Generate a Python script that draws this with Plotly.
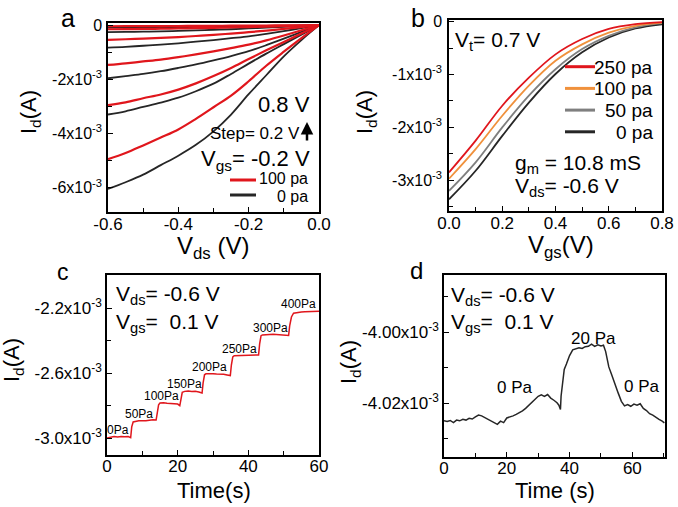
import plotly.graph_objects as go

W, H = 678, 507
FONT = "Liberation Sans, Arial, sans-serif"

# ---------------- Panel a : output curves ----------------
vds_a = [-0.6, -0.55, -0.5, -0.45, -0.4, -0.35, -0.3, -0.25, -0.2, -0.15, -0.1, -0.05, 0.0]
vgs_a = [-0.2, 0.0, 0.2, 0.4, 0.6, 0.8]
# Id in units of 1e-3 A, one list per Vgs
id_a_0pa = [
    [-6.05, -5.80, -5.52, -5.17, -4.82, -4.42, -3.92, -3.30, -2.55, -1.85, -1.15, -0.55, 0.0],
    [-3.30, -3.18, -3.02, -2.86, -2.68, -2.44, -2.16, -1.80, -1.42, -1.05, -0.70, -0.35, 0.0],
    [-1.96, -1.88, -1.80, -1.70, -1.58, -1.45, -1.30, -1.14, -0.96, -0.74, -0.50, -0.25, 0.0],
    [-0.83, -0.80, -0.76, -0.72, -0.67, -0.61, -0.55, -0.48, -0.41, -0.32, -0.22, -0.11, 0.0],
    [-0.26, -0.25, -0.24, -0.23, -0.21, -0.19, -0.17, -0.15, -0.12, -0.09, -0.06, -0.03, 0.0],
    [-0.09, -0.085, -0.08, -0.075, -0.07, -0.065, -0.055, -0.05, -0.04, -0.03, -0.02, -0.01, 0.0],
]
id_a_100pa = [
    [-4.95, -4.72, -4.44, -4.15, -3.85, -3.46, -3.03, -2.60, -2.07, -1.50, -0.98, -0.48, 0.0],
    [-2.95, -2.85, -2.70, -2.56, -2.38, -2.15, -1.88, -1.58, -1.25, -0.93, -0.62, -0.31, 0.0],
    [-1.47, -1.41, -1.34, -1.27, -1.18, -1.08, -0.97, -0.85, -0.72, -0.56, -0.38, -0.19, 0.0],
    [-0.54, -0.52, -0.50, -0.47, -0.44, -0.40, -0.36, -0.31, -0.26, -0.20, -0.14, -0.07, 0.0],
    [-0.15, -0.145, -0.14, -0.13, -0.12, -0.11, -0.10, -0.085, -0.07, -0.055, -0.035, -0.018, 0.0],
    [-0.04, -0.038, -0.036, -0.033, -0.03, -0.027, -0.024, -0.02, -0.017, -0.013, -0.009, -0.005, 0.0],
]

# ---------------- Panel b : transfer curves ----------------
vgs_b = [0.0, 0.1, 0.2, 0.3, 0.4, 0.5, 0.6, 0.7, 0.8]
pressures_b = ["250 pa", "100 pa", "50 pa", "0 pa"]
id_b = [
    [-2.85, -2.25, -1.59, -1.06, -0.62, -0.33, -0.14, -0.05, -0.01],
    [-2.97, -2.41, -1.78, -1.21, -0.74, -0.43, -0.21, -0.08, -0.02],
    [-3.20, -2.66, -2.00, -1.40, -0.90, -0.52, -0.27, -0.11, -0.03],
    [-3.36, -2.82, -2.16, -1.53, -0.99, -0.58, -0.30, -0.13, -0.05],
]

# ---------------- Panel c : step response ----------------
time_c = [0, 1, 2, 3, 4, 5, 6, 6.7, 7.0, 7.4,
          8, 9, 10, 11, 12, 13, 13.9, 14.2, 14.6,
          15, 16, 17, 18, 19, 20, 20.6, 20.9, 21.3,
          22, 23, 24, 25, 26, 26.9, 27.2, 27.6,
          28, 29, 30, 31, 32, 33, 34, 34.9, 35.2, 35.6,
          36, 37, 38, 39, 40, 41, 42, 42.9, 43.2, 43.6,
          44, 45, 46, 47, 48, 49, 50, 51.4, 51.7, 52.2, 52.8,
          54, 55, 56, 57, 58, 59, 60]
id_c = [-2.998, -2.993, -2.990, -2.992, -2.989, -2.991, -2.990, -2.997, -2.930, -2.900,
        -2.897, -2.893, -2.892, -2.893, -2.889, -2.886, -2.888, -2.840, -2.795,
        -2.784, -2.782, -2.785, -2.786, -2.788, -2.790, -2.800, -2.760, -2.718,
        -2.712, -2.710, -2.713, -2.712, -2.716, -2.722, -2.660, -2.610,
        -2.604, -2.602, -2.603, -2.605, -2.604, -2.607, -2.611, -2.615, -2.550, -2.500,
        -2.493, -2.492, -2.490, -2.489, -2.488, -2.486, -2.487, -2.488, -2.420, -2.370,
        -2.365, -2.362, -2.362, -2.361, -2.362, -2.362, -2.363, -2.368, -2.310, -2.255, -2.232,
        -2.226, -2.224, -2.223, -2.222, -2.221, -2.221, -2.220]
step_labels = ["0Pa", "50Pa", "100Pa", "150Pa", "200Pa", "250Pa", "300Pa", "400Pa"]
step_label_t = [3.2, 9.1, 15.3, 21.8, 29.1, 37.6, 46.4, 54.3]
step_label_i = [-2.949, -2.850, -2.740, -2.666, -2.561, -2.450, -2.321, -2.173]

# ---------------- Panel d : 20 Pa response ----------------
time_d = [0, 1, 2, 3, 4, 5, 6, 7, 8, 9, 10, 11, 12, 13, 14, 15, 16, 17, 18, 19,
          20, 21, 22, 23, 24, 25, 26, 27, 28, 29, 30, 31, 32, 33, 34, 35, 36, 36.6,
          37.1, 37.3, 37.7, 38.3, 39, 40, 41, 42, 43, 44, 45, 46, 47, 48, 49, 50, 50.8,
          51.5, 52.5, 53.5, 54.5, 55.5, 56.5, 57.5, 58.5, 59.5, 60.5, 61.5, 62.5, 63.5,
          64.5, 65.5, 66.5, 67.5, 68.5, 69.5, 70.2]
id_d = [-4.0250, -4.0252, -4.0249, -4.0255, -4.0248, -4.0250, -4.0246, -4.0248, -4.0243,
        -4.0245, -4.0239, -4.0234, -4.0236, -4.0241, -4.0245, -4.0250, -4.0256, -4.0260,
        -4.0251, -4.0255, -4.0242, -4.0240, -4.0236, -4.0232, -4.0228, -4.0222, -4.0215,
        -4.0206, -4.0197, -4.0189, -4.0181, -4.0177, -4.0181, -4.0176, -4.0186, -4.0192,
        -4.0199, -4.0206, -4.0218, -4.0180, -4.0150, -4.0105, -4.0090, -4.0066, -4.0050,
        -4.0046, -4.0044, -4.0046, -4.0041, -4.0040, -4.0034, -4.0040, -4.0036, -4.0039,
        -4.0037, -4.0055, -4.0098, -4.0122, -4.0150, -4.0172, -4.0195, -4.0208, -4.0204,
        -4.0209, -4.0203, -4.0206, -4.0202, -4.0215, -4.0221, -4.0230, -4.0234, -4.0241,
        -4.0246, -4.0251, -4.0256]
d_labels = ["0 Pa", "20 Pa", "0 Pa"]
d_label_t = [22.6, 47.5, 63.0]
d_label_i = [-4.0156, -4.0017, -4.0153]

assert len(time_c) == len(id_c)
assert len(time_d) == len(id_d)

RED = "#e0161c"
BLACK = "#262626"
ORANGE = "#f0913c"
GRAY = "#7f7f7f"


def px(x):
    return x / W


def py(y):
    return 1 - y / H


def e3(vals):
    return [v * 1e-3 for v in vals]


fig = go.Figure()

# panel a traces
for k, vg in enumerate(vgs_a):
    fig.add_trace(go.Scatter(x=vds_a, y=e3(id_a_0pa[k]), mode="lines", line=dict(color=BLACK, width=1.8, shape="spline"),
                             showlegend=False, xaxis="x", yaxis="y", name=f"0 pa, Vgs={vg}"))
for k, vg in enumerate(vgs_a):
    fig.add_trace(go.Scatter(x=vds_a, y=e3(id_a_100pa[k]), mode="lines", line=dict(color=RED, width=2.2, shape="spline"),
                             showlegend=False, xaxis="x", yaxis="y", name=f"100 pa, Vgs={vg}"))

# panel b traces
colors_b = [RED, ORANGE, GRAY, BLACK]
for k in range(3, -1, -1):
    fig.add_trace(go.Scatter(x=vgs_b, y=e3(id_b[k]), mode="lines", line=dict(color=colors_b[k], width=1.8, shape="spline"),
                             showlegend=False, xaxis="x2", yaxis="y2", name=pressures_b[k]))

# panel c
fig.add_trace(go.Scatter(x=time_c, y=e3(id_c), mode="lines", line=dict(color=RED, width=1.5),
                         showlegend=False, xaxis="x3", yaxis="y3", name="step"))
# panel d
fig.add_trace(go.Scatter(x=time_d, y=e3(id_d), mode="lines", line=dict(color=BLACK, width=1.5),
                         showlegend=False, xaxis="x4", yaxis="y4", name="20 Pa"))


def axis_common(size, standoff=0):
    return dict(showline=True, linecolor="black", linewidth=1.5, mirror=True,
                ticks="inside", ticklen=5, tickwidth=1.2, tickcolor="black",
                showgrid=False, zeroline=False, automargin=False, ticklabelstandoff=standoff,
                tickfont=dict(family=FONT, size=size, color="black"))


def sup_labels(vals, fmt):
    out = []
    for v in vals:
        if v == 0:
            out.append("0")
        else:
            out.append(format(v, fmt) + "x10<sup>-3</sup>")
    return out


ya_ticks = [0, -2, -4, -6]
yb_ticks = [0, -1, -2, -3]
yc_ticks = [-2.2, -2.6, -3.0]
yd_ticks = [-4.00, -4.02]

layout = dict(
    width=W, height=H, margin=dict(l=0, r=0, t=0, b=0),
    paper_bgcolor="white", plot_bgcolor="white",
    font=dict(family=FONT, color="black"),
    xaxis=dict(**axis_common(17, -4), domain=[px(108), px(319)], range=[-0.6, 0.0], anchor="y",
               tickvals=[-0.6, -0.4, -0.2, 0.0], ticktext=["-0.6", "-0.4", "-0.2", "0.0"],
               minor=dict(ticks="inside", ticklen=4, dtick=0.1, tick0=0, tickcolor="black")),
    yaxis=dict(**axis_common(16, 1), domain=[py(212), py(23)], range=[-6.9e-3, 0.08e-3], anchor="x",
               tickvals=e3(ya_ticks), ticktext=sup_labels(ya_ticks, "g"),
               minor=dict(ticks="inside", ticklen=4, dtick=1e-3, tick0=0, tickcolor="black")),
    xaxis2=dict(**axis_common(17, -4), domain=[px(449), px(662)], range=[0, 0.8], anchor="y2",
                tickvals=[0, 0.2, 0.4, 0.6, 0.8], ticktext=["0.0", "0.2", "0.4", "0.6", "0.8"],
                minor=dict(ticks="inside", ticklen=4, dtick=0.1, tick0=0, tickcolor="black")),
    yaxis2=dict(**axis_common(16, 2), domain=[py(211), py(20)], range=[-3.58e-3, 0.03e-3], anchor="x2",
                tickvals=e3(yb_ticks), ticktext=sup_labels(yb_ticks, "g"),
                minor=dict(ticks="inside", ticklen=4, dtick=0.5e-3, tick0=0, tickcolor="black")),
    xaxis3=dict(**axis_common(17, -5), domain=[px(107), px(319)], range=[0, 60], anchor="y3",
                tickvals=[0, 20, 40, 60],
                minor=dict(ticks="inside", ticklen=4, dtick=10, tick0=0, tickcolor="black")),
    yaxis3=dict(**axis_common(17, 0), domain=[py(455), py(275)], range=[-3.103e-3, -1.997e-3], anchor="x3",
                tickvals=e3(yc_ticks), ticktext=sup_labels(yc_ticks, ".1f"),
                minor=dict(ticks="inside", ticklen=4, dtick=0.2e-3, tick0=0, tickcolor="black")),
    xaxis4=dict(**axis_common(17, -5), domain=[px(444), px(665)], range=[0, 70.4], anchor="y4",
                tickvals=[0, 20, 40, 60],
                minor=dict(ticks="inside", ticklen=4, dtick=10, tick0=0, tickcolor="black")),
    yaxis4=dict(**axis_common(17, 0), domain=[py(457), py(275)], range=[-4.0352e-3, -3.9839e-3], anchor="x4",
                tickvals=e3(yd_ticks), ticktext=sup_labels(yd_ticks, ".2f"),
                minor=dict(ticks="inside", ticklen=4, dtick=0.01e-3, tick0=0, tickcolor="black")),
)
fig.update_layout(**layout)

ann = []


def txt(text, x, y, size, xanchor="left", yanchor="middle", xref="paper", yref="paper", angle=0):
    ann.append(dict(text=text, x=x, y=y, xref=xref, yref=yref, xanchor=xanchor, yanchor=yanchor,
                    showarrow=False, textangle=angle, font=dict(family=FONT, size=size, color="black")))


# axis titles
txt("V<sub>ds</sub> (V)", px(213), py(247), 24, "center")
txt("V<sub>gs</sub>(V)", px(561), py(246), 24, "center")
txt("Time(s)", px(214), py(490), 22, "center")
txt("Time (s)", px(555), py(490), 22, "center")
txt("I<sub>d</sub>(A)", px(30), py(112), 22, "center", angle=-90)
txt("I<sub>d</sub>(A)", px(366), py(112), 22, "center", angle=-90)
txt("I<sub>d</sub>(A)", px(13), py(360), 22, "center", angle=-90)
txt("I<sub>d</sub>(A)", px(350), py(362), 22, "center", angle=-90)

# panel letters
txt("a", px(68), py(18), 25, "center")
txt("b", px(418), py(18), 25, "center")
txt("c", px(63), py(272), 23, "center")
txt("d", px(417), py(270), 24, "center")

# panel a texts
txt("0.8 V", px(312), py(105), 22, "right")
txt("Step= 0.2 V", px(208), py(133), 17, "left")
txt("V<sub>gs</sub>= -0.2 V", px(312), py(160), 22, "right")
txt("100 pa", px(310), py(178.5), 16, "right")
txt("0 pa", px(310), py(196.5), 16, "right")
ann.append(dict(text="", x=px(307), y=py(122), xref="paper", yref="paper", ax=0, ay=20,
                showarrow=True, arrowhead=2, arrowsize=1, arrowwidth=2.5, arrowcolor="black"))

# panel b texts
txt("V<sub>t</sub>= 0.7 V", px(453), py(41), 21, "left")
txt("g<sub>m</sub> = 10.8 mS", px(513), py(164), 21, "left")
txt("V<sub>ds</sub>= -0.6 V", px(513), py(187), 21, "left")
for k, lab in enumerate(pressures_b):
    txt(lab, px(655), py(67 + 21.7 * k), 19, "right")

# panel c texts
txt("V<sub>ds</sub>= -0.6 V", px(114), py(295), 21, "left")
txt("V<sub>gs</sub>=&nbsp; 0.1 V", px(114), py(323), 21, "left")
for lab, t, i in zip(step_labels, step_label_t, step_label_i):
    txt(lab, t, i * 1e-3, 12, "center", "middle", "x3", "y3")

# panel d texts
txt("V<sub>ds</sub>= -0.6 V", px(449), py(296), 21, "left")
txt("V<sub>gs</sub>=&nbsp; 0.1 V", px(449), py(323), 21, "left")
for lab, t, i in zip(d_labels, d_label_t, d_label_i):
    txt(lab, t, i * 1e-3, 17, "center", "middle", "x4", "y4")

fig.update_layout(annotations=ann)

# legend line samples (drawn as shapes in paper coords)
shapes = []
for yy, col in [(180, RED), (195, BLACK)]:
    shapes.append(dict(type="line", xref="paper", yref="paper", x0=px(230), x1=px(256), y0=py(yy), y1=py(yy),
                       line=dict(color=col, width=3)))
for k, col in enumerate(colors_b):
    yy = 66.7 + 21.7 * k
    shapes.append(dict(type="line", xref="paper", yref="paper", x0=px(565), x1=px(595), y0=py(yy), y1=py(yy),
                       line=dict(color=col, width=3)))
fig.update_layout(shapes=shapes)

fig.write_html("out.html", config={"displayModeBar": False},
               post_script="document.body.style.margin='0px';")
